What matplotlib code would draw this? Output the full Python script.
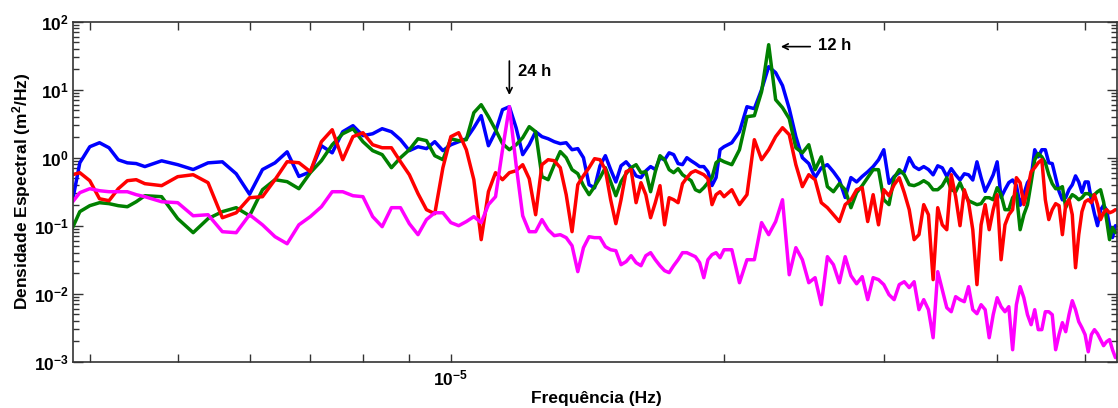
import numpy as np
import matplotlib.pyplot as plt
from matplotlib.ticker import LogLocator, NullLocator, NullFormatter

plt.rcParams['font.family'] = ['Liberation Sans', 'DejaVu Sans']
plt.rcParams['font.weight'] = 'bold'
plt.rcParams['mathtext.fontset'] = 'custom'
plt.rcParams['mathtext.rm'] = 'Liberation Sans:bold'
plt.rcParams['mathtext.it'] = 'Liberation Sans:bold'
plt.rcParams['mathtext.bf'] = 'Liberation Sans:bold'

# frequencias (micro-Hz)
freq_uhz = [
    3.83, 3.9, 4.0, 4.1, 4.2, 4.3, 4.4, 4.5, 4.6, 4.8,
    5.0, 5.2, 5.4, 5.6, 5.8, 6.0, 6.2, 6.4, 6.6, 6.8,
    7.0, 7.2, 7.4, 7.6, 7.8, 8.0, 8.2, 8.4, 8.6, 8.8,
    9.0, 9.2, 9.4, 9.6, 9.8, 10.0,
    10.2, 10.4, 10.6, 10.8, 11.0, 11.2, 11.4, 11.6, 11.8, 12.0,
    12.2, 12.4, 12.6, 12.8, 13.0, 13.2, 13.4, 13.6, 13.8, 14.0,
    14.2, 14.4, 14.6, 14.8, 15.0, 15.2, 15.4, 15.6, 15.8, 16.0,
    16.2, 16.4, 16.6, 16.8, 17.0, 17.2, 17.4, 17.6, 17.8, 18.0,
    18.2, 18.4, 18.6, 18.8, 19.0, 19.2, 19.4, 19.6, 19.8, 20.0,
    20.4, 20.8, 21.2, 21.6, 22.0, 22.4, 22.8, 23.2, 23.6, 24.0,
    24.4, 24.8, 25.2, 25.6, 26.0, 26.4, 26.8, 27.2, 27.6, 28.0,
    28.4, 28.8, 29.2, 29.6, 30.0, 30.4, 30.8, 31.2, 31.6, 32.0,
    32.4, 32.8, 33.2, 33.6, 34.0, 34.4, 34.8, 35.2, 35.6, 36.0,
    36.4, 36.8, 37.2, 37.6, 38.0, 38.4, 38.8, 39.2, 39.6, 40.0,
    40.4, 40.8, 41.2, 41.6, 42.0, 42.4, 42.8, 43.2, 43.6, 44.0,
    44.4, 44.8, 45.2, 45.6, 46.0, 46.4, 46.8, 47.2, 47.6, 48.0,
    48.4, 48.8, 49.2, 49.6, 50.0, 50.4, 50.8, 51.2, 51.6, 52.0,
    52.4, 52.8, 53.2, 53.6, 54.0,
]

psd_azul = [
    0.24, 0.84, 1.45, 1.66, 1.40, 0.93, 0.84, 0.82, 0.74, 0.90,
    0.79, 0.67, 0.84, 0.87, 0.58, 0.29, 0.67, 0.84, 1.22, 0.53,
    0.62, 1.50, 1.18, 2.41, 2.96, 2.11, 2.25, 2.67, 2.41, 1.84,
    1.27, 1.45, 1.36, 1.72, 1.27, 1.55,
    1.72, 1.90, 2.76, 4.15, 1.50, 2.41, 5.08, 5.62, 2.76, 1.11,
    1.55, 2.41, 2.04, 1.90, 1.72, 1.61, 1.66, 1.31, 1.36, 1.00,
    0.40, 0.36, 0.76, 1.07, 0.67, 0.44, 0.76, 0.87, 0.71, 0.54,
    0.51, 0.64, 0.74, 0.67, 1.00, 0.93, 1.18, 1.11, 0.82, 0.79,
    1.00, 0.90, 0.82, 0.74, 0.74, 0.62, 0.39, 0.51, 1.31, 1.45,
    1.66, 2.41, 5.62, 5.26, 10.0, 21.8, 17.8, 11.5, 5.26, 2.04,
    1.00, 0.82, 0.51, 0.71, 0.79, 0.62, 0.47, 0.26, 0.51, 0.44,
    0.53, 0.62, 0.74, 0.93, 1.31, 0.42, 0.53, 0.60, 0.62, 1.00,
    0.74, 0.67, 0.74, 0.67, 0.56, 0.76, 0.71, 0.53, 0.69, 0.56,
    0.47, 0.58, 0.56, 0.47, 0.87, 0.51, 0.32, 0.42, 0.56, 0.87,
    0.26, 0.34, 0.43, 0.47, 0.39, 0.20, 0.29, 0.43, 0.51, 1.31,
    1.03, 1.31, 1.31, 0.84, 0.82, 0.51, 0.32, 0.24, 0.26, 0.34,
    0.40, 0.54, 0.44, 0.31, 0.44, 0.44, 0.24, 0.15, 0.10, 0.17,
    0.20, 0.17, 0.10, 0.067, 0.10,
]

psd_verde = [
    0.094, 0.161, 0.197, 0.218, 0.211, 0.197, 0.190, 0.225, 0.276, 0.267,
    0.127, 0.079, 0.127, 0.161, 0.184, 0.140, 0.338, 0.475, 0.444, 0.350,
    0.602, 0.903, 1.55, 2.25, 2.67, 1.72, 1.27, 1.11, 0.713, 1.00,
    1.31, 1.90, 1.78, 1.07, 0.935, 1.90,
    1.78, 1.84, 4.59, 6.02, 4.01, 2.58, 1.61, 1.31, 1.55, 1.97,
    2.86, 2.41, 0.526, 0.475, 0.789, 1.23, 1.00, 0.667, 0.582, 0.388,
    0.286, 0.375, 0.508, 0.713, 0.444, 0.276, 0.444, 0.582, 0.713, 0.789,
    0.602, 0.623, 0.316, 0.623, 1.07, 0.935, 0.667, 0.602, 0.689, 0.562,
    0.508, 0.459, 0.338, 0.316, 0.362, 0.429, 0.508, 0.844, 0.935, 0.873,
    0.789, 1.31, 4.01, 4.15, 9.35, 45.9, 7.13, 5.44, 3.75, 1.40,
    1.18, 1.55, 0.667, 1.03, 0.375, 0.316, 0.415, 0.338, 0.184, 0.306,
    0.388, 0.508, 0.667, 0.667, 0.241, 0.204, 0.508, 0.667, 0.562, 0.401,
    0.388, 0.415, 0.459, 0.415, 0.338, 0.338, 0.388, 0.508, 0.338, 0.316,
    0.429, 0.306, 0.233, 0.218, 0.204, 0.211, 0.258, 0.258, 0.241, 0.362,
    0.286, 0.172, 0.172, 0.258, 0.296, 0.0873, 0.145, 0.204, 0.429, 0.935,
    1.15, 1.03, 0.844, 0.562, 0.415, 0.350, 0.350, 0.375, 0.184, 0.241,
    0.286, 0.267, 0.241, 0.258, 0.296, 0.296, 0.276, 0.286, 0.316, 0.338,
    0.225, 0.123, 0.0623, 0.0935, 0.0789,
]

psd_vermelho = [
    0.562, 0.602, 0.459, 0.249, 0.233, 0.350, 0.459, 0.475, 0.415, 0.388,
    0.526, 0.562, 0.429, 0.131, 0.155, 0.258, 0.267, 0.475, 0.873, 0.844,
    0.623, 1.72, 2.58, 0.935, 2.04, 2.33, 1.55, 1.40, 1.40, 0.873,
    0.562, 0.296, 0.172, 0.150, 0.713, 2.04,
    2.33, 1.31, 0.475, 0.0623, 0.316, 0.602, 0.475, 0.602, 0.644, 0.789,
    0.491, 0.145, 0.789, 0.935, 0.903, 0.713, 0.286, 0.0816, 0.401, 0.544,
    0.713, 0.967, 0.935, 0.667, 0.241, 0.107, 0.241, 0.623, 0.667, 0.218,
    0.429, 0.286, 0.131, 0.218, 0.388, 0.103, 0.258, 0.241, 0.218, 0.415,
    0.508, 0.602, 0.644, 0.602, 0.562, 0.491, 0.204, 0.286, 0.316, 0.267,
    0.338, 0.204, 0.286, 1.84, 0.935, 1.31, 2.04, 2.76, 2.18, 0.789,
    0.375, 0.562, 0.475, 0.218, 0.184, 0.145, 0.115, 0.204, 0.241, 0.338,
    0.362, 0.115, 0.286, 0.103, 0.338, 0.276, 0.401, 0.508, 0.306, 0.172,
    0.0623, 0.0738, 0.204, 0.145, 0.0161, 0.184, 0.103, 0.0873, 0.562, 0.267,
    0.100, 0.338, 0.218, 0.0873, 0.0136, 0.103, 0.204, 0.0873, 0.172, 0.286,
    0.0316, 0.103, 0.145, 0.172, 0.508, 0.429, 0.204, 0.338, 0.623, 0.713,
    0.844, 0.935, 0.241, 0.123, 0.172, 0.211, 0.197, 0.0738, 0.204, 0.241,
    0.145, 0.0241, 0.0738, 0.161, 0.225, 0.241, 0.218, 0.286, 0.204, 0.123,
    0.155, 0.172, 0.155, 0.161, 0.172,
]

psd_magenta = [
    0.225, 0.306, 0.350, 0.327, 0.316, 0.316, 0.316, 0.286, 0.267, 0.225,
    0.218, 0.140, 0.145, 0.0816, 0.0789, 0.145, 0.103, 0.0689, 0.0543, 0.103,
    0.136, 0.190, 0.316, 0.316, 0.276, 0.267, 0.136, 0.0967, 0.184, 0.184,
    0.107, 0.0738, 0.123, 0.155, 0.155, 0.111,
    0.100, 0.115, 0.136, 0.111, 0.204, 0.267, 1.31, 5.62, 0.789, 0.140,
    0.0816, 0.0816, 0.123, 0.0873, 0.0713, 0.0738, 0.0667, 0.0508, 0.0211, 0.0475,
    0.0689, 0.0667, 0.0667, 0.0491, 0.0443, 0.0429, 0.0267, 0.0296, 0.0362, 0.0286,
    0.0258, 0.0362, 0.0401, 0.0316, 0.0258, 0.0218, 0.0204, 0.0258, 0.0316, 0.0401,
    0.0401, 0.0375, 0.0350, 0.0286, 0.0172, 0.0316, 0.0375, 0.0401, 0.0338, 0.0443,
    0.0443, 0.0145, 0.0316, 0.0316, 0.111, 0.0738, 0.115, 0.241, 0.019, 0.0475,
    0.0316, 0.0145, 0.0172, 0.00689, 0.035, 0.0267, 0.0145, 0.035, 0.0184, 0.014,
    0.0178, 0.00817, 0.0172, 0.0161, 0.0136, 0.00967, 0.00817, 0.0136, 0.015, 0.0123,
    0.015, 0.00582, 0.00817, 0.00582, 0.00225, 0.0211, 0.0115, 0.00622, 0.00543, 0.00904,
    0.00817, 0.00763, 0.0127, 0.00582, 0.00508, 0.00689, 0.00582, 0.00225, 0.00491, 0.00873,
    0.00644, 0.00543, 0.00644, 0.0015, 0.00689, 0.0127, 0.00873, 0.00491, 0.0035, 0.00582,
    0.00296, 0.00296, 0.00543, 0.00543, 0.00491, 0.0015, 0.0025, 0.00375, 0.00276, 0.00491,
    0.00789, 0.00582, 0.00388, 0.00316, 0.0025, 0.0014, 0.0025, 0.00296, 0.00258, 0.00211,
    0.00172, 0.00197, 0.00211, 0.0015, 0.00115,
]

freq = np.array(freq_uhz) * 1e-6

fig = plt.figure(figsize=(11.18, 4.08), dpi=100)
ax = fig.add_axes([0.065, 0.1135, 0.934, 0.8333])

lw = 2.5
estilo = dict(lw=lw, solid_joinstyle='round', solid_capstyle='round')
ax.loglog(freq, psd_azul, color='#0000ff', **estilo)
ax.loglog(freq, psd_verde, color='#008000', **estilo)
ax.loglog(freq, psd_vermelho, color='#ff0000', **estilo)
ax.loglog(freq, psd_magenta, color='#ff00ff', **estilo)

ax.set_xlim(3.83e-6, 5.42e-5)
ax.set_ylim(1e-3, 1e2)

# ticks estilo matlab
xt = [4e-6, 5e-6, 6e-6, 7e-6, 8e-6, 9e-6, 1e-5, 2e-5, 3e-5, 4e-5, 5e-5]
ax.set_xticks(xt, ['' if t != 1e-5 else r'$10^{-5}$' for t in xt])
ax.xaxis.set_minor_locator(NullLocator())
yt = [1e-3, 1e-2, 1e-1, 1e0, 1e1, 1e2]
ax.set_yticks(yt, [r'$10^{%d}$' % e for e in range(-3, 3)])
ax.yaxis.set_minor_locator(LogLocator(base=10, subs=range(2, 10)))
ax.yaxis.set_minor_formatter(NullFormatter())

ax.tick_params(which='both', direction='in', top=True, right=True,
               labelsize=12.5, color='#333333', width=1)
ax.tick_params(axis='x', which='major', length=6, pad=5)
ax.tick_params(axis='y', which='major', length=7.5, pad=3)
ax.tick_params(axis='y', which='minor', length=4)
for s in ax.spines.values():
    s.set_color('#333333')
    s.set_linewidth(1.2)

ax.set_xlabel('Frequência (Hz)', fontsize=12.5, fontweight='bold')
ax.set_ylabel('Densidade Espectral (m$^2$/Hz)', fontsize=12.5, fontweight='bold')
ax.xaxis.set_label_coords(0.502, -0.085)
ax.yaxis.set_label_coords(-0.038, 0.5)

# anotacoes
ax.annotate('', xy=(1.16e-5, 7.6), xytext=(1.16e-5, 29),
            arrowprops=dict(arrowstyle='->', color='k', lw=1.2))
ax.text(1.185e-5, 18.4, '24 h', fontsize=12, fontweight='bold', va='center')
ax.annotate('', xy=(2.294e-5, 43), xytext=(2.507e-5, 43),
            arrowprops=dict(arrowstyle='->', color='k', lw=1.2))
ax.text(2.54e-5, 45, '12 h', fontsize=12, fontweight='bold', va='center')

plt.savefig('out.png', dpi=100)
